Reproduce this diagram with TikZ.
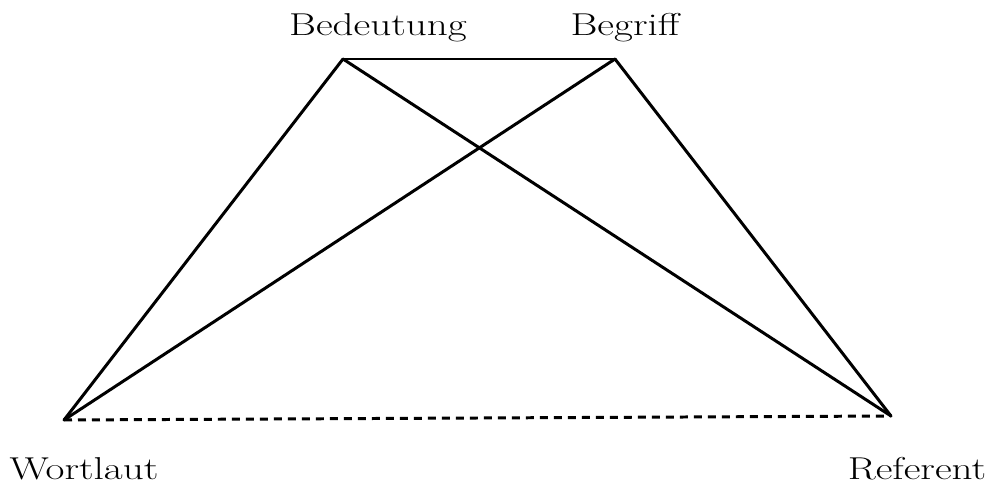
\documentclass[tikz,border=0pt]{standalone}
\usepackage{tikz}
\usetikzlibrary{positioning, calc}
\definecolor{inkline}{HTML}{000000}
\newcommand{\wideterm}[1]{\scalebox{1.3}[1]{#1}}
\tikzset{
  edge/.style={draw=inkline, line width=1.7pt, line cap=round, line join=round},
  weak/.style={draw=inkline, line width=1.7pt, dash pattern=on 0.16cm off 0.12cm},
  term/.style={text=inkline, font=\fontsize{18}{22}\selectfont, inner sep=0pt, anchor=base}
}
\begin{document}
\begin{tikzpicture}[x=0.02cm, y=-0.02cm]
      \useasboundingbox (0,0) rectangle (991,486);
      \coordinate (bed) at (343,59);
      \coordinate (beg) at (615,59);
      \coordinate (wort) at (64,420);
      \coordinate (ref) at (891,416);
      \node[term] (lbed) at (378,36) {\wideterm{Bedeutung}};
      \node[term] (lbeg) at (625,36) {\wideterm{Begriff}};
      \node[term] (lwort) at (84,479) {\wideterm{Wortlaut}};
      \node[term] (lref) at (917,479) {\wideterm{Referent}};
      \draw[edge] (bed) -- (beg);
      \draw[edge] (bed) -- (wort);
      \draw[edge] (bed) -- (ref);
      \draw[edge] (beg) -- (wort);
      \draw[edge] (beg) -- (ref);
      \draw[weak] (wort) -- (ref);
    \end{tikzpicture}
\end{document}
